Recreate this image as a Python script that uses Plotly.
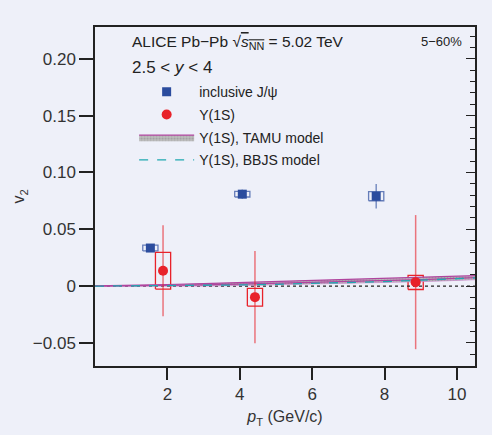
import plotly.graph_objects as go

# ---------------- data ----------------
jpsi_pt = [1.53, 4.07, 7.77]
jpsi_v2 = [0.0335, 0.0809, 0.0791]
jpsi_stat = [0.003, 0.004, 0.0107]
jpsi_sys = [0.0025, 0.0025, 0.004]
jpsi_sys_w = [0.21, 0.21, 0.21]

ups_pt = [1.88, 4.42, 8.86]
ups_v2 = [0.0135, -0.0097, 0.0035]
ups_stat = [0.040, 0.0405, 0.059]
ups_sys_hi = [0.0297, -0.002, 0.0094]
ups_sys_lo = [-0.0026, -0.0176, -0.003]
ups_sys_w = [0.21, 0.21, 0.21]

tamu_pt = [0, 1, 2, 3, 4, 5, 6, 7, 8, 9, 10, 10.5]
tamu_v2 = [0.0, 0.0002, 0.0006, 0.0011, 0.0018, 0.0025, 0.0031, 0.0038, 0.0046, 0.0057, 0.0068, 0.0074]
tamu_err = [0.0002, 0.0004, 0.0008, 0.0011, 0.0013, 0.0014, 0.0015, 0.0016, 0.0017, 0.0018, 0.0018, 0.0018]

bbjs_pt = [0, 1, 2, 3, 4, 5, 6, 7, 8, 9, 10, 10.5]
bbjs_v2 = [0.0, 0.0001, 0.0003, 0.0006, 0.0010, 0.0016, 0.0022, 0.0030, 0.0040, 0.0052, 0.0065, 0.0072]

x_range = [0, 10.5]
y_range = [-0.0703, 0.228]
y_ticks = [-0.05, 0, 0.05, 0.10, 0.15, 0.20]
y_ticklabels = ["\u22120.05", "0", "0.05", "0.10", "0.15", "0.20"]
x_ticks = [2, 4, 6, 8, 10]

BG = "#eef0f9"
BLUE = "#2b4c9e"
RED = "#e8222a"
SANS = "Liberation Sans, Arial, sans-serif"


def boxes(xc, hw, lo, hi):
    xs, ys = [], []
    for x, w, a, b in zip(xc, hw, lo, hi):
        xs += [x - w, x + w, x + w, x - w, x - w, None]
        ys += [a, a, b, b, a, None]
    return xs, ys


fig = go.Figure()

# systematic boxes
jx, jy = boxes(jpsi_pt, jpsi_sys_w,
               [v - s for v, s in zip(jpsi_v2, jpsi_sys)],
               [v + s for v, s in zip(jpsi_v2, jpsi_sys)])
fig.add_trace(go.Scatter(x=jx, y=jy, mode="lines",
                         line=dict(color="rgba(43,76,158,0.7)", width=1.3),
                         legendgroup="a", showlegend=False, hoverinfo="skip"))
ux, uy = boxes(ups_pt, ups_sys_w, ups_sys_lo, ups_sys_hi)
fig.add_trace(go.Scatter(x=ux, y=uy, mode="lines",
                         line=dict(color=RED, width=1.3),
                         legendgroup="b", showlegend=False, hoverinfo="skip"))

# zero line
fig.add_trace(go.Scatter(x=x_range, y=[0, 0], mode="lines",
                         line=dict(color="#222", width=1.3, dash="dot"),
                         legendgroup="z", showlegend=False, hoverinfo="skip"))

# TAMU band
tamu_lo = [v - e for v, e in zip(tamu_v2, tamu_err)]
tamu_hi = [v + e for v, e in zip(tamu_v2, tamu_err)]
fig.add_trace(go.Scatter(x=tamu_pt, y=tamu_lo, mode="lines",
                         line=dict(color="rgba(200,120,200,0.6)", width=1),
                         legendgroup="c", showlegend=False, hoverinfo="skip"))
fig.add_trace(go.Scatter(x=tamu_pt, y=tamu_hi, mode="lines", fill="tonexty",
                         fillcolor="rgba(190,170,200,0.6)",
                         fillpattern=dict(shape=".", fgcolor="#7a7a7a", bgcolor="#c0c0c0",
                                          size=3, solidity=0.4),
                         line=dict(color="#b0449f", width=1.2),
                         name="\u03a5(1S), TAMU model", legendgroup="c", legendrank=3))
fig.add_trace(go.Scatter(x=tamu_pt, y=tamu_v2, mode="lines",
                         line=dict(color="#b0449f", width=1.2),
                         legendgroup="c", showlegend=False, hoverinfo="skip"))

# BBJS
fig.add_trace(go.Scatter(x=bbjs_pt, y=bbjs_v2, mode="lines",
                         line=dict(color="#1fa8b0", width=1.3, dash="dash"),
                         name="\u03a5(1S), BBJS model", legendgroup="d", legendrank=4))

# points
fig.add_trace(go.Scatter(x=jpsi_pt, y=jpsi_v2, mode="markers",
                         marker=dict(symbol="square", size=9, color=BLUE),
                         error_y=dict(type="data", array=jpsi_stat, width=0,
                                      thickness=1.5, color="rgba(43,76,158,0.6)"),
                         name="inclusive J/\u03c8", legendgroup="a", legendrank=1))
fig.add_trace(go.Scatter(x=ups_pt, y=ups_v2, mode="markers",
                         marker=dict(symbol="circle", size=10, color=RED),
                         error_y=dict(type="data", array=ups_stat, width=0,
                                      thickness=1.5, color="rgba(232,34,42,0.6)"),
                         name="\u03a5(1S)", legendgroup="b", legendrank=2))

# invisible trace for right axis
fig.add_trace(go.Scatter(x=[5], y=[0], yaxis="y2", mode="markers",
                         marker=dict(opacity=0), showlegend=False, hoverinfo="skip"))

fig.update_layout(
    width=492, height=435,
    paper_bgcolor=BG, plot_bgcolor=BG,
    margin=dict(l=95, r=17, t=27, b=69),
    font=dict(family=SANS, size=16, color="#333"),
    showlegend=True,
    legend=dict(x=0.103, y=0.855, xanchor="left", yanchor="top",
                bgcolor="rgba(0,0,0,0)", traceorder="grouped",
                tracegroupgap=1.5, itemwidth=55,
                font=dict(family=SANS, size=14, color="#222")),
    xaxis=dict(range=x_range, tickvals=x_ticks, ticks="outside", ticklen=12,
               tickwidth=1.5, tickcolor="#222", showgrid=False, zeroline=False,
               showline=True, linecolor="#222", linewidth=1.5, mirror=True,
               automargin=False,
               tickfont=dict(family=SANS, size=17, color="#333"),
               title=dict(text="<i>p</i><sub>T</sub> (GeV/c)",
                          font=dict(family=SANS, size=16, color="#333"), standoff=8)),
    yaxis=dict(range=y_range, tickvals=y_ticks, ticktext=y_ticklabels,
               ticks="outside", ticklen=14, tickwidth=1.5, tickcolor="#222",
               showgrid=False, zeroline=False, showline=True, linecolor="#222",
               linewidth=1.5, mirror=True, automargin=False,
               tickfont=dict(family=SANS, size=17, color="#333"),
               title=dict(text="v<sub>2</sub>", font=dict(family=SANS, size=16, color="#333"),
                          standoff=4)),
    yaxis2=dict(range=y_range, overlaying="y", side="right", tickvals=y_ticks,
                ticks="inside", ticklen=9, tickwidth=1.3, tickcolor="#222",
                showticklabels=False, showgrid=False, zeroline=False, showline=False,
                automargin=False,
                minor=dict(dtick=0.01, tick0=0, ticks="inside", ticklen=5,
                           tickwidth=1, tickcolor="#222", showgrid=False)),
    annotations=[
        dict(xref="paper", yref="paper", x=0.092, y=0.953, xanchor="left", yanchor="middle",
             showarrow=False,
             text="ALICE Pb\u2212Pb \u221a<span style='text-decoration:overline'><i>s</i><sub>NN</sub></span> = 5.02 TeV",
             font=dict(family=SANS, size=15.5, color="#222")),
        dict(xref="paper", yref="paper", x=0.092, y=0.882, xanchor="left", yanchor="middle",
             showarrow=False, text="2.5 < <i>y</i> < 4",
             font=dict(family=SANS, size=17, color="#222")),
        dict(xref="paper", yref="paper", x=0.972, y=0.957, xanchor="right", yanchor="middle",
             showarrow=False, text="5\u221260%",
             font=dict(family=SANS, size=13, color="#222")),
    ],
)

fig.write_html("out.html",
               config={"displayModeBar": False},
               post_script="document.body.style.margin='0px';"
                           "document.body.style.background='#eef0f9';")
